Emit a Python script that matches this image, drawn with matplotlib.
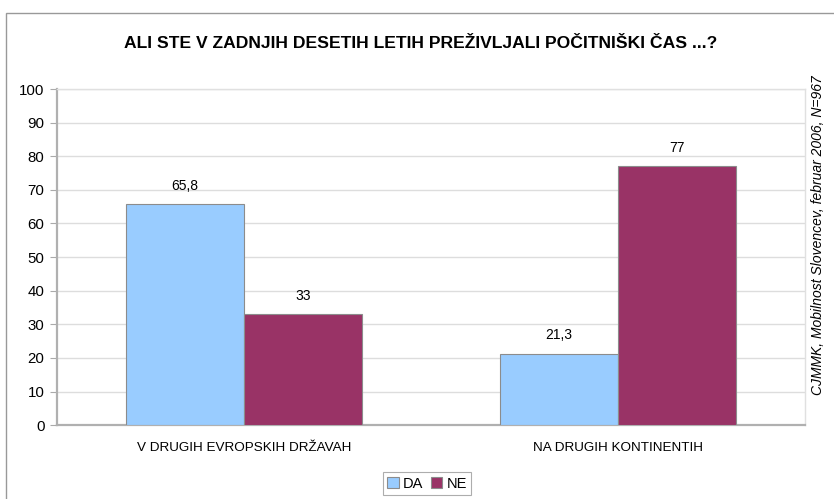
from matplotlib import pyplot as plt
from matplotlib.patches import Rectangle
import numpy as np

plt.rcParams['font.family'] = ['Liberation Sans', 'DejaVu Sans']

# Podatki
kategorije = ["V DRUGIH EVROPSKIH DRŽAVAH", "NA DRUGIH KONTINENTIH"]
da = [65.8, 21.3]
ne = [33, 77]
oznake_da = ["65,8", "21,3"]
oznake_ne = ["33", "77"]

fig = plt.figure(figsize=(8.34, 4.99), dpi=100)
ax = fig.add_axes([0.0683, 0.148, 0.8969, 0.6736])

x = np.arange(len(kategorije))
w = 0.315
b1 = ax.bar(x - w / 2, da, w, color="#99CCFF", edgecolor="#8c8c8c", linewidth=0.8, label="DA", zorder=3)
b2 = ax.bar(x + w / 2, ne, w, color="#993366", edgecolor="#8c8c8c", linewidth=0.8, label="NE", zorder=3)

for bars, lab in [(b1, oznake_da), (b2, oznake_ne)]:
    for r, t in zip(bars, lab):
        ax.annotate(t, (r.get_x() + r.get_width() / 2, r.get_height()),
                    xytext=(0, 8), textcoords="offset points",
                    ha="center", va="bottom", fontsize=10)

ax.set_xlim(-0.5, 1.5)
ax.set_ylim(0, 100)
ax.set_yticks(range(0, 101, 10))
ax.yaxis.grid(True, color="#dddddd", linewidth=1, zorder=0)
ax.set_xticks(x)
ax.set_xticklabels(kategorije, fontsize=9.7)
ax.tick_params(axis="x", length=0, pad=12)
ax.tick_params(axis="y", labelsize=10.8, length=5, color="#aaaaaa", pad=4)

for s in ["top", "right"]:
    ax.spines[s].set_color("#e0e0e0")
    ax.spines[s].set_linewidth(1)
for s in ["left", "bottom"]:
    ax.spines[s].set_color("#b0b0b0")
    ax.spines[s].set_linewidth(1.6)

fig.text(0.504, 0.912, "ALI STE V ZADNJIH DESETIH LETIH PREŽIVLJALI POČITNIŠKI ČAS ...?",
         ha="center", va="center", fontsize=12.6, fontweight="bold")
fig.text(0.981, 0.529, "CJMMK, Mobilnost Slovencev, februar 2006, N=967",
         rotation=90, ha="center", va="center", fontsize=10, style="italic")

leg = ax.legend(loc="center", bbox_to_anchor=(0.512, 0.031), bbox_transform=fig.transFigure,
                ncol=2, fontsize=10.5, frameon=True, fancybox=False, edgecolor="#999999",
                handlelength=0.8, handleheight=0.8, handletextpad=0.3, columnspacing=0.5,
                borderpad=0.3, borderaxespad=0)
leg.get_frame().set_linewidth(0.8)

fig.patches.append(Rectangle((0.007, -0.01), 1.0, 0.984, transform=fig.transFigure,
                             fill=False, edgecolor="#999999", linewidth=1))

fig.savefig("out.png", dpi=100)
